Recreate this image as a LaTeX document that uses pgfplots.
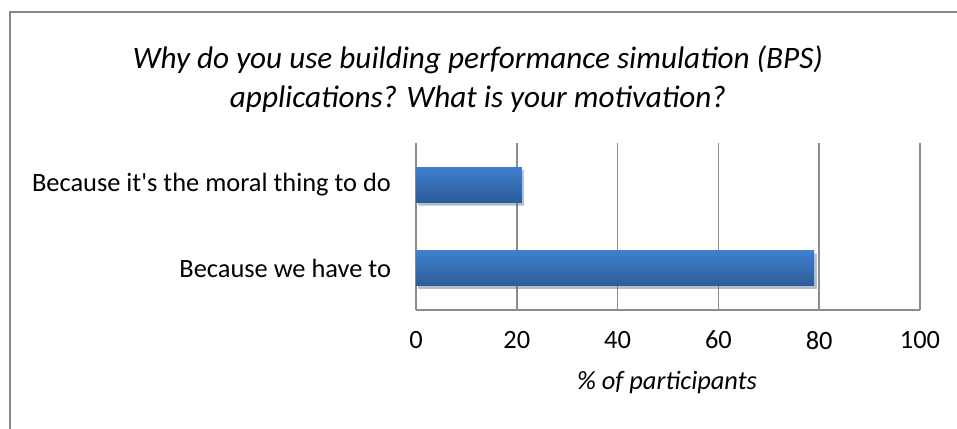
\documentclass[border=0pt]{standalone}
\usepackage{fontspec}
\setmainfont{Carlito}
\usepackage{pgfplots}
\pgfplotsset{compat=1.18}
\usetikzlibrary{shadows}
\definecolor{bartop}{HTML}{3F7FCF}
\definecolor{barbot}{HTML}{2C5C98}
\definecolor{gridc}{HTML}{8C8C8C}
\definecolor{framec}{HTML}{888888}
\pgfplotsset{
    bpsbar/.style={draw=none, top color=bartop, bottom color=barbot,
        bar shift=0pt,
        drop shadow={opacity=0.25, shadow xshift=1.2pt, shadow yshift=-1.5pt}},
}
\begin{document}
\begin{tikzpicture}
\clip (-208pt,-59pt) rectangle (270.5pt,155pt);
\useasboundingbox (-208pt,-59pt) rectangle (270.5pt,155pt);
\draw[framec, line width=0.8pt] (-203pt,-80pt) -- (-203pt,149pt) -- (300pt,149pt);
\begin{axis}[
    at={(0,0)}, anchor=south west,
    width=252pt, height=83.5pt, scale only axis,
    xbar, bar width=17.5pt,
    xmin=0, xmax=100,
    xtick={0,20,40,60,80,100},
    ymin=-0.5, ymax=1.5,
    ytick={0,1},
    yticklabels={Because we have to, Because it\textquotesingle s the moral thing to do},
    axis x line=bottom, axis y line=left,
    axis line style={gridc, line width=0.8pt, -},
    xmajorgrids, grid style={gridc, line width=0.8pt},
    major tick length=0pt,
    /pgf/number format/assume math mode=true,
    tick label style={font=\fontsize{13.2}{15.8}\selectfont, black},
    xticklabel style={yshift=-7pt},
    yticklabel style={xshift=-9pt},
    xlabel={\itshape \% of participants},
    xlabel style={font=\fontsize{13.2}{15.8}\selectfont, at={(axis description cs:0.498,-0.437)}, anchor=center},
    title={\itshape Why do you use building performance simulation (BPS)\\ \itshape applications? What is your motivation?},
    title style={font=\fontsize{15.6}{19.3}\selectfont, align=center, at={(axis description cs:0.123,1.31)}, anchor=center},
]
\addplot[bpsbar] coordinates {(79,0)};
\addplot[bpsbar] coordinates {(21,1)};
\end{axis}
\end{tikzpicture}
\end{document}
